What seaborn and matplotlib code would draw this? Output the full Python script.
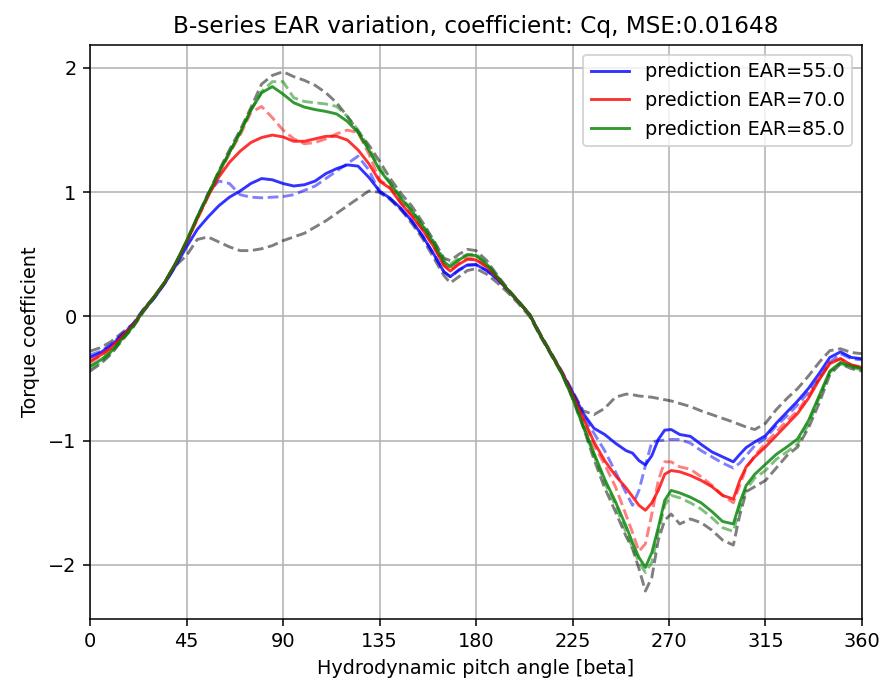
import matplotlib
matplotlib.use("Agg")
import matplotlib.pyplot as plt
import seaborn as sns
import pandas as pd

beta = [0,5,10,15,20,25,30,35,40,45,50,55,60,65,70,75,80,85,90,95,100,105,110,115,120,125,130,135,
        140,145,150,155,160,165,168,172,176,180,185,190,195,200,205,210,215,220,225,230,235,240,245,250,
        253,256,259,262,265,268,271,275,280,285,290,295,300,303,306,310,315,320,325,330,335,340,345,350,355,360]

pred_55 = [-0.33,-0.29,-0.23,-0.15,-0.07,0.05,0.15,0.27,0.41,0.56,0.70,0.80,0.89,0.96,1.01,1.07,1.11,1.10,1.07,1.05,
           1.06,1.09,1.15,1.19,1.22,1.21,1.12,1.01,0.95,0.87,0.77,0.65,0.51,0.36,0.32,0.375,0.415,0.418,0.37,0.30,
           0.21,0.115,0.015,-0.15,-0.30,-0.45,-0.61,-0.78,-0.90,-0.95,-1.02,-1.08,-1.10,-1.16,-1.195,-1.12,-0.99,-0.915,
           -0.91,-0.95,-0.965,-1.03,-1.09,-1.13,-1.17,-1.11,-1.055,-1.01,-0.96,-0.86,-0.77,-0.68,-0.58,-0.46,-0.33,-0.285,-0.33,-0.34]
data_55 = [-0.31,-0.28,-0.22,-0.14,-0.06,0.06,0.16,0.28,0.43,0.60,0.80,0.99,1.09,1.07,0.98,0.96,0.955,0.96,0.965,0.98,
           1.015,1.05,1.11,1.17,1.23,1.29,1.18,1.00,0.95,0.86,0.77,0.65,0.51,0.36,0.32,0.37,0.41,0.415,0.37,0.30,
           0.21,0.115,0.015,-0.15,-0.30,-0.45,-0.62,-0.80,-0.94,-1.08,-1.25,-1.42,-1.52,-1.40,-1.20,-1.01,-1.00,-0.995,
           -0.99,-0.99,-1.02,-1.08,-1.13,-1.18,-1.22,-1.18,-1.12,-1.04,-0.98,-0.88,-0.80,-0.71,-0.61,-0.50,-0.37,-0.30,-0.34,-0.35]
pred_70 = [-0.36,-0.31,-0.25,-0.16,-0.07,0.05,0.16,0.28,0.43,0.60,0.79,0.97,1.12,1.24,1.33,1.40,1.44,1.46,1.445,1.41,
           1.41,1.43,1.45,1.45,1.42,1.34,1.23,1.09,1.03,0.91,0.81,0.70,0.57,0.41,0.365,0.42,0.46,0.455,0.40,0.31,
           0.21,0.115,0.015,-0.15,-0.30,-0.45,-0.63,-0.82,-1.01,-1.16,-1.28,-1.38,-1.45,-1.52,-1.56,-1.50,-1.40,-1.27,
           -1.24,-1.25,-1.28,-1.32,-1.37,-1.44,-1.47,-1.32,-1.21,-1.13,-1.05,-0.96,-0.87,-0.78,-0.66,-0.51,-0.38,-0.34,-0.39,-0.41]
data_70 = [-0.37,-0.32,-0.26,-0.17,-0.07,0.05,0.16,0.28,0.43,0.59,0.78,0.96,1.14,1.31,1.46,1.64,1.69,1.60,1.50,1.43,
           1.39,1.40,1.43,1.47,1.50,1.48,1.31,1.10,1.04,0.92,0.82,0.70,0.57,0.42,0.37,0.43,0.47,0.46,0.40,0.31,
           0.21,0.115,0.015,-0.15,-0.30,-0.45,-0.64,-0.84,-1.04,-1.19,-1.37,-1.60,-1.74,-1.89,-1.83,-1.59,-1.32,-1.17,
           -1.17,-1.21,-1.23,-1.29,-1.36,-1.44,-1.50,-1.36,-1.22,-1.12,-1.02,-0.93,-0.84,-0.76,-0.64,-0.50,-0.37,-0.34,-0.39,-0.41]
pred_85 = [-0.40,-0.35,-0.28,-0.18,-0.08,0.05,0.16,0.28,0.43,0.61,0.80,0.98,1.16,1.32,1.48,1.66,1.80,1.85,1.79,1.72,
           1.685,1.665,1.65,1.63,1.57,1.48,1.34,1.18,1.07,0.95,0.85,0.73,0.60,0.44,0.40,0.455,0.495,0.49,0.42,0.32,
           0.21,0.115,0.015,-0.15,-0.30,-0.46,-0.65,-0.88,-1.10,-1.31,-1.49,-1.69,-1.82,-1.94,-2.02,-1.90,-1.70,-1.48,
           -1.40,-1.42,-1.455,-1.50,-1.57,-1.65,-1.67,-1.50,-1.36,-1.27,-1.19,-1.11,-1.05,-0.985,-0.84,-0.64,-0.44,-0.37,-0.40,-0.42]
data_85 = [-0.42,-0.37,-0.29,-0.19,-0.08,0.05,0.16,0.28,0.43,0.60,0.80,0.97,1.15,1.32,1.48,1.66,1.81,1.89,1.89,1.76,
           1.73,1.72,1.71,1.69,1.61,1.50,1.36,1.20,1.08,0.96,0.86,0.74,0.61,0.46,0.42,0.47,0.50,0.50,0.43,0.32,
           0.21,0.115,0.015,-0.15,-0.30,-0.46,-0.66,-0.89,-1.12,-1.34,-1.52,-1.74,-1.86,-1.98,-2.06,-1.98,-1.74,-1.52,
           -1.44,-1.46,-1.50,-1.55,-1.62,-1.70,-1.73,-1.55,-1.39,-1.30,-1.24,-1.15,-1.09,-1.025,-0.87,-0.66,-0.45,-0.38,-0.41,-0.43]
bound_upper = [-0.28,-0.25,-0.20,-0.13,-0.06,0.06,0.16,0.28,0.43,0.60,0.79,0.98,1.17,1.34,1.50,1.68,1.87,1.94,1.97,1.93,
               1.90,1.86,1.80,1.72,1.61,1.49,1.38,1.25,1.11,0.99,0.89,0.76,0.62,0.47,0.45,0.50,0.54,0.53,0.45,0.33,
               0.22,0.12,0.02,-0.14,-0.29,-0.44,-0.60,-0.76,-0.79,-0.74,-0.65,-0.625,-0.63,-0.64,-0.645,-0.65,-0.66,-0.67,
               -0.68,-0.70,-0.725,-0.76,-0.79,-0.82,-0.85,-0.87,-0.89,-0.91,-0.86,-0.75,-0.66,-0.58,-0.48,-0.37,-0.275,-0.26,-0.29,-0.30]
bound_lower = [-0.44,-0.38,-0.30,-0.19,-0.09,0.04,0.15,0.27,0.41,0.49,0.62,0.64,0.60,0.56,0.53,0.53,0.545,0.57,0.61,0.64,
               0.67,0.72,0.77,0.83,0.89,0.95,1.01,1.00,0.94,0.86,0.75,0.63,0.48,0.33,0.27,0.32,0.37,0.385,0.34,0.27,
               0.19,0.10,0.00,-0.16,-0.31,-0.46,-0.66,-0.89,-1.15,-1.38,-1.57,-1.77,-1.87,-2.03,-2.21,-2.10,-1.80,-1.64,
               -1.59,-1.67,-1.63,-1.66,-1.72,-1.80,-1.84,-1.60,-1.41,-1.37,-1.32,-1.22,-1.12,-1.05,-0.90,-0.70,-0.47,-0.38,-0.42,-0.44]

title = "B-series EAR variation, coefficient: Cq, MSE:0.01648"
xlabel = "Hydrodynamic pitch angle [beta]"
ylabel = "Torque coefficient"
xticks = [0, 45, 90, 135, 180, 225, 270, 315, 360]

dpi = 138.75
fig = plt.figure(figsize=(888 / dpi, 691 / dpi), dpi=dpi)
ax = fig.add_axes([0.1014, 0.1042, 0.8693, 0.8307])

df = pd.DataFrame({"beta": beta})
for col, vals in [("bu", bound_upper), ("bl", bound_lower)]:
    df[col] = vals
    sns.lineplot(data=df, x="beta", y=col, ax=ax, color="black", alpha=0.5,
                 linestyle="--", linewidth=1.5)

series = [("EAR=55.0", pred_55, data_55, "blue"),
          ("EAR=70.0", pred_70, data_70, "red"),
          ("EAR=85.0", pred_85, data_85, "green")]
for name, pred, dat, c in series:
    df["d"] = dat
    sns.lineplot(data=df, x="beta", y="d", ax=ax, color=c, alpha=0.5,
                 linestyle="--", linewidth=1.5)
for name, pred, dat, c in series:
    df["p"] = pred
    sns.lineplot(data=df, x="beta", y="p", ax=ax, color=c, alpha=0.8,
                 linewidth=1.5, label="prediction " + name)

ax.set_xlim(0, 360)
ax.set_ylim(-2.435, 2.185)
ax.set_xticks(xticks)
ax.set_yticks([-2, -1, 0, 1, 2])
ax.grid(True)
ax.set_title(title)
ax.set_xlabel(xlabel)
ax.set_ylabel(ylabel)
ax.legend(loc="upper right")
fig.savefig("out.png", dpi=dpi)
